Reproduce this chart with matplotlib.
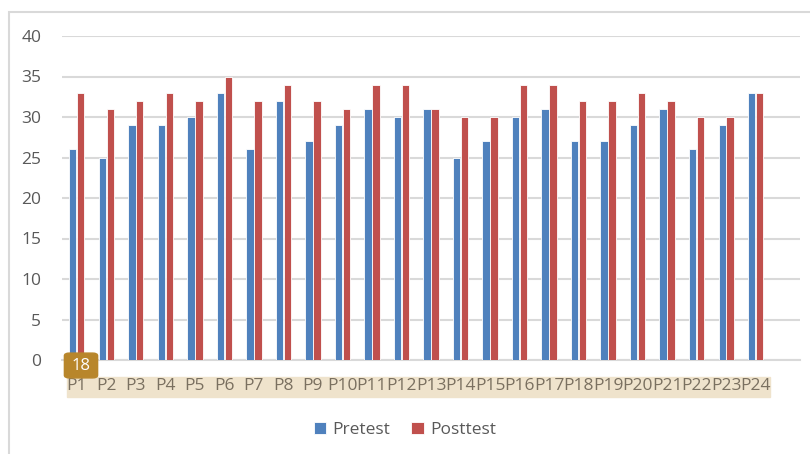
import numpy as np
import matplotlib.pyplot as plt
from matplotlib.patches import Rectangle, FancyBboxPatch

labels = ["P%d" % i for i in range(1, 25)]
pretest = [26, 25, 29, 29, 30, 33, 26, 32, 27, 29, 31, 30,
           31, 25, 27, 30, 31, 27, 27, 29, 31, 26, 29, 33]
posttest = [33, 31, 32, 33, 32, 35, 32, 34, 32, 31, 34, 34,
            31, 30, 30, 34, 34, 32, 32, 33, 32, 30, 30, 33]

plt.rcParams['font.family'] = ['Open Sans', 'DejaVu Sans']

fig = plt.figure(figsize=(8.1, 4.54), dpi=100)
ax = fig.add_axes([62/810, 1 - 360/454, 738/810, 324/454])
ax.set_facecolor('none')

x = np.arange(len(labels))
w = 0.25
ax.bar(x - w/2 - 0.01, pretest, w, color='#4F81BD', edgecolor='white', linewidth=0.6, label='Pretest', zorder=3)
ax.bar(x + w/2 + 0.01, posttest, w, color='#C0504D', edgecolor='white', linewidth=0.6, label='Posttest', zorder=3)

ax.set_xlim(-0.5, 24.5)
ax.set_ylim(0, 40)
ax.set_yticks(range(0, 41, 5))
ax.yaxis.grid(True, color='#D9D9D9', linewidth=1.5, zorder=0)
ax.set_xticks(x)
ax.set_xticklabels(labels, fontsize=12.5, color='#7a7060')
ax.tick_params(axis='y', labelsize=12.5, labelcolor='#595959', length=0, pad=15)
ax.tick_params(axis='x', length=0, pad=13)
for s in ['top', 'right', 'left']:
    ax.spines[s].set_visible(False)
ax.spines['bottom'].set_color('#D9D9D9')
ax.spines['bottom'].set_linewidth(1.5)

# tan highlight band behind category labels
band = Rectangle((67/810, 1 - 397/454), 703/810, 20/454,
                 transform=fig.transFigure, color='#EFE3CC', zorder=-1)
fig.patches.append(band)
# chart border
fig.patches.append(Rectangle((9/810, -0.05), 1.0, 1 - 12/454 + 0.05,
                             transform=fig.transFigure, fill=False,
                             edgecolor='#D9D9D9', linewidth=1.5, zorder=-1))
# page badge
badge = FancyBboxPatch((66/810, 1 - 377/454), 30/810, 23/454,
                       boxstyle='round,pad=0.002,rounding_size=0.006',
                       transform=fig.transFigure, color='#B8862B', zorder=5)
fig.patches.append(badge)
fig.text(81/810, 1 - 366/454, '18', color='white', fontsize=12,
         ha='center', va='center', zorder=6)

ax.legend(loc='center', bbox_to_anchor=(0.5, 1 - 430/454), bbox_transform=fig.transFigure,
          ncol=2, frameon=False, fontsize=12.5, handlelength=0.7, handleheight=0.7,
          handletextpad=0.4, columnspacing=1.2, labelcolor='#595959')

plt.savefig('out.png', dpi=100)
